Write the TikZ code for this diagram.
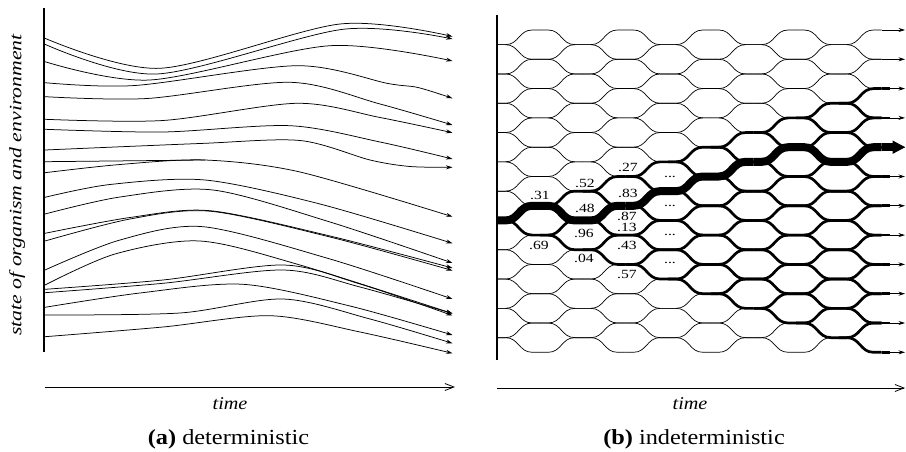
\documentclass[tikz,border=0pt]{standalone}
\usepackage{fontspec}
\setmainfont{Liberation Serif}
\usetikzlibrary{arrows.meta}

% one link of the lattice: style, column, from level, to level
\newcommand{\hexlink}[4]{%
  \draw[#1] ({497.5+42.67*(#2)},{30+14.65*(#3)}) -- ++(8,0)
    .. controls +(13.3,0) and +(-13.3,0) .. ({497.5+42.67*(#2+1)-8},{30+14.65*(#4)}) -- ++(8,0);}

\begin{document}
\begin{tikzpicture}[x=1pt,y=-1pt,
  bar/.style={line width=2.8pt},
  traj/.style={line width=0.75pt,-{Stealth[length=6.5pt,width=4pt]}},
  thinlink/.style={line width=0.7pt},
  conelink/.style={line width=2.7pt},
  pathlink/.style={line width=8pt},
  axis/.style={line width=0.8pt,-{Straight Barb[length=9pt,width=7pt]}},
  prob/.style={inner sep=0pt,font=\fontsize{12.5}{14}\selectfont},
  tlabel/.style={inner sep=0pt,font=\fontsize{18}{20}\selectfont\itshape},
  caption/.style={inner sep=0pt,font=\fontsize{21.5}{24}\selectfont}]
\useasboundingbox (0,0) rectangle (906,452);

% (a) deterministic
\draw[bar] (44,8) -- (44,352);
\node[tlabel,font=\fontsize{17.4}{20}\selectfont\itshape,rotate=90] (state) at (17,185) {\scalebox{1.25}[1]{state of organism and environment}};
\draw[traj] plot[smooth] coordinates {(45,38.3) (160,68.3) (340,24) (452.5,36.5)};
\draw[traj] plot[smooth] coordinates {(45,44.3) (157,74) (343,29.3) (452.5,39)};
\draw[traj] plot[smooth] coordinates {(45,61.7) (150,80) (330,45.7) (452.5,61)};
\draw[traj] plot[smooth] coordinates {(45,82.7) (135,85.5) (297,65.7) (388,83.5) (418,87.5) (452.5,98.3)};
\draw[traj] plot[smooth] coordinates {(45,96.7) (147,98.5) (290,82.3) (380,104) (452.5,125)};
\draw[traj] plot[smooth] coordinates {(45,119.3) (163,120.5) (297,103.3) (380,117.5) (452.5,132.7)};
\draw[traj] plot[smooth] coordinates {(45,129.3) (163,132) (290,125.7) (380,142) (452.5,159)};
\draw[traj] plot[smooth] coordinates {(45,150) (200,143.5) (300,140.5) (370,160) (410,166.5) (452.5,167.3)};
\draw[traj,-] plot[smooth] coordinates {(45,161.7) (130,160.8) (205,160)};
\draw[traj] plot[smooth] coordinates {(45,172.7) (120,164.5) (205,160) (300,172) (452.5,216.7)};
\draw[traj] plot[smooth] coordinates {(45,197.3) (110,184.5) (205,180) (320,204) (452.5,243.3)};
\draw[traj] plot[smooth] coordinates {(45,214) (120,197) (213,190) (330,222) (452.5,263)};
\draw[traj] plot[smooth] coordinates {(45,233.3) (130,217.5) (210,210.7) (330,236) (452.5,268)};
\draw[traj] plot[smooth] coordinates {(45,241) (130,219) (210,211.2) (330,237) (452.5,270.5)};
\draw[traj] plot[smooth] coordinates {(45,270) (120,240) (203,226.7) (330,259) (452.5,299)};
\draw[traj] plot[smooth] coordinates {(45,285) (115,254) (200,241) (300,265) (452.5,313.5)};
\draw[traj] plot[smooth] coordinates {(45,289.3) (163,280) (283,265) (360,284) (452.5,315.5)};
\draw[traj] plot[smooth] coordinates {(45,292.7) (163,283.3) (283,270) (360,287) (452.5,313.5)};
\draw[traj] plot[smooth] coordinates {(45,307.3) (140,293) (243,284.3) (350,306) (452.5,335)};
\draw[traj] plot[smooth] coordinates {(45,315) (180,313) (283,299) (370,319) (452.5,343.3)};
\draw[traj] plot[smooth] coordinates {(45,336.7) (163,327) (270,315.7) (360,332) (452.5,353.3)};
\coordinate (ta0) at (45,387);
\coordinate (ta1) at (455,387);
\draw[axis] (ta0) -- (ta1);
\node[tlabel] (timea) at (230,404) {\scalebox{1.12}[1]{time}};
\node[caption] (capa) at (228.5,439) {\scalebox{1.13}[1]{\textbf{(a)} deterministic}};

% (b) indeterministic
\draw[bar] (497,15) -- (497,360);
\foreach \j in {0,...,8}{
  \foreach \m in {0,...,22}{
    \ifodd\numexpr\j+\m\relax
      \ifnum\m>0 \hexlink{thinlink}{\j}{\m}{\m-1}\fi
      \ifnum\m<22 \hexlink{thinlink}{\j}{\m}{\m+1}\fi
    \fi}}
\foreach \j in {0,...,8}{
  \foreach \k in {0,...,\j}{
    \pgfmathtruncatemacro\m{13-\j+2*\k}
    \hexlink{conelink}{\j}{\m}{\m-1}
    \hexlink{conelink}{\j}{\m}{\m+1}}}
\foreach \j/\a/\b in {0/13/12,1/12/13,2/13/12,3/12/11,4/11/10,5/10/9,6/9/8,7/8/9,8/9/8}{
  \hexlink{pathlink}{\j}{\a}{\b}}
\foreach \m in {0,2,...,22}{
  \draw[thinlink,-{Stealth[length=6.5pt,width=4pt]}] (881.5,{30+14.65*\m}) -- (905,{30+14.65*\m});}
\foreach \m in {4,6,...,22}{
  \draw[conelink] (881.5,{30+14.65*\m}) -- ++(8,0);}
\draw[pathlink,-{Triangle[length=13pt,width=12.5pt]}] (881.5,147.2) -- (905.5,147.2);
\foreach \p/\x/\y in {31/540/195,52/585/183,27/628/167,48/585/208.5,83/628/193,87/627/216,
  13/627/227,96/584/233,69/539/245,43/627/245,04/584/258,57/627/274}{
  \node[prob] (p\p) at (\x,\y) {\scalebox{1.25}[1]{.\p}};}
\foreach \i/\y in {1/177,2/206,3/235,4/263}{
  \node[prob] (dots\i) at (670,\y) {\scalebox{1.25}[1]{...}};}
\coordinate (tb0) at (497,388);
\coordinate (tb1) at (905,388);
\draw[axis] (tb0) -- (tb1);
\node[tlabel] (timeb) at (690,404) {\scalebox{1.12}[1]{time}};
\node[caption] (capb) at (694,439) {\scalebox{1.13}[1]{\textbf{(b)} indeterministic}};
\end{tikzpicture}
\end{document}
